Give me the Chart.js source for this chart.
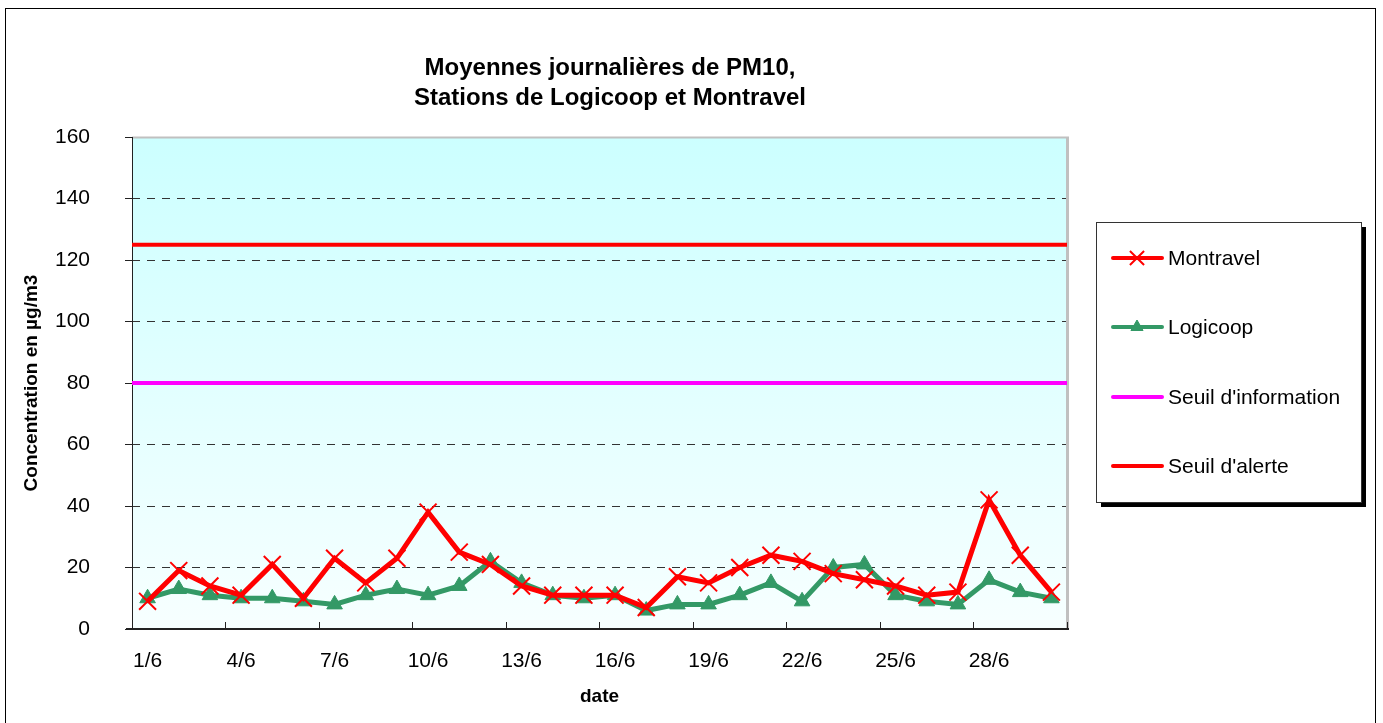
<!DOCTYPE html>
<html><head><meta charset="utf-8">
<script src="https://cdn.jsdelivr.net/npm/chart.js@4/dist/chart.umd.min.js"></script>
<style>html,body{margin:0;padding:0;background:#fff;}canvas{display:block;}</style>
</head><body>
<canvas id="c" width="1383" height="723"></canvas>
<script>
const titleLines = ['Moyennes journalières de PM10,', 'Stations de Logicoop et Montravel'];
const yTitle = 'Concentration en µg/m3';
const xTitle = 'date';
const dates = ['1/6','2/6','3/6','4/6','5/6','6/6','7/6','8/6','9/6','10/6','11/6','12/6','13/6','14/6','15/6',
  '16/6','17/6','18/6','19/6','20/6','21/6','22/6','23/6','24/6','25/6','26/6','27/6','28/6','29/6','30/6'];
const montravel = [9,19,14,11,21,10,23,15,23,38,25,21,14,11,11,11,7,17,15,20,24,22,18,16,14,11,12,42,24,12];
const logicoop = [10,13,11,10,10,9,8,11,13,11,14,22,15,11,10,11,6,8,8,11,15,9,20,21,11,9,8,16,12,10];
const seuilInformation = 80;
const seuilAlerte = 125;
const yMin = 0, yMax = 160, yStep = 20;
const labelEvery = 3;

const FONT = '"Liberation Sans", Arial, Helvetica, sans-serif';

const chromePlugin = {
  id: 'chrome',
  beforeDraw(chart) {
    const ctx = chart.ctx, a = chart.chartArea;
    ctx.save();
    ctx.strokeStyle = '#000'; ctx.lineWidth = 1;
    ctx.strokeRect(5.5, 8.5, 1370, 730);
    const g = ctx.createLinearGradient(0, a.top, 0, a.bottom);
    g.addColorStop(0, '#CCFFFF');
    g.addColorStop(1, '#F7FFFF');
    ctx.fillStyle = g;
    ctx.fillRect(a.left, a.top, a.right - a.left, a.bottom - a.top);
    ctx.restore();
  },
  beforeDatasetsDraw(chart) {
    const ctx = chart.ctx, a = chart.chartArea;
    ctx.save();
    ctx.strokeStyle = '#C0C0C0';
    ctx.lineWidth = 2;
    ctx.beginPath(); ctx.moveTo(a.left, a.top + 0.5); ctx.lineTo(a.right + 2, a.top + 0.5); ctx.stroke();
    ctx.lineWidth = 3;
    ctx.beginPath(); ctx.moveTo(a.right + 0.5, a.top); ctx.lineTo(a.right + 0.5, a.bottom); ctx.stroke();
    ctx.strokeStyle = '#222';
    ctx.lineWidth = 1;
    ctx.beginPath(); ctx.moveTo(a.left + 0.5, a.top); ctx.lineTo(a.left + 0.5, a.bottom + 1); ctx.stroke();
    ctx.lineWidth = 2;
    ctx.beginPath(); ctx.moveTo(a.left - 6, a.bottom); ctx.lineTo(a.right + 2, a.bottom); ctx.stroke();
    const xs = chart.scales.x;
    const step = xs.getPixelForValue(1) - xs.getPixelForValue(0);
    const x0 = xs.getPixelForValue(0) - step / 2;
    ctx.lineWidth = 1;
    for (let i = 0; i <= dates.length; i += labelEvery) {
      const px = Math.round(x0 + i * step) + 0.5;
      ctx.beginPath(); ctx.moveTo(px, a.bottom - 7); ctx.lineTo(px, a.bottom); ctx.stroke();
    }
    ctx.restore();
  },
  afterDraw(chart) {
    const ctx = chart.ctx;
    ctx.save();
    ctx.fillStyle = '#000';
    ctx.font = 'bold 24px ' + FONT;
    ctx.textAlign = 'center';
    ctx.textBaseline = 'middle';
    ctx.fillText(titleLines[0], 610, 68);
    ctx.fillText(titleLines[1], 610, 98);
    const L = {x: 1096, y: 222, w: 265, h: 280};
    ctx.fillStyle = '#000';
    ctx.fillRect(L.x + 5, L.y + 5, L.w, L.h);
    ctx.fillStyle = '#fff';
    ctx.fillRect(L.x, L.y, L.w, L.h);
    ctx.strokeStyle = '#333'; ctx.lineWidth = 1;
    ctx.strokeRect(L.x + 0.5, L.y + 0.5, L.w, L.h);
    const itemY = [258, 327, 397, 466];
    ctx.font = '21px ' + FONT;
    ctx.textAlign = 'left';
    chart.data.datasets.forEach((ds, i) => {
      const y = itemY[i];
      ctx.strokeStyle = ds.borderColor;
      ctx.lineWidth = 4;
      ctx.lineCap = 'round';
      ctx.beginPath(); ctx.moveTo(1113, y); ctx.lineTo(1162, y); ctx.stroke();
      if (ds.pointRadius > 0) {
        ctx.fillStyle = ds.pointBackgroundColor;
        ctx.strokeStyle = ds.pointBorderColor;
        ctx.lineWidth = ds.pointBorderWidth;
        ctx.lineCap = 'butt';
        Chart.helpers.drawPoint(ctx, {
          pointStyle: ds.pointStyle, radius: ds.legendRadius, rotation: 0,
          borderWidth: ds.pointBorderWidth
        }, 1137, y);
      }
      ctx.fillStyle = '#000';
      ctx.fillText(ds.label, 1168, y + 1);
    });
    ctx.restore();
  }
};

new Chart(document.getElementById('c'), {
  type: 'line',
  data: {
    labels: dates,
    datasets: [
      { label: 'Montravel', data: montravel, borderColor: '#FF0000', borderWidth: 5,
        pointStyle: 'crossRot', pointRadius: 12, pointBorderWidth: 2, legendRadius: 10,
        pointBorderColor: '#FF0000', pointBackgroundColor: '#FF0000', tension: 0 },
      { label: 'Logicoop', data: logicoop, borderColor: '#339966', borderWidth: 5,
        pointStyle: 'triangle', pointRadius: 9, pointBorderWidth: 1, legendRadius: 7,
        pointBorderColor: '#339966', pointBackgroundColor: '#339966', tension: 0 },
      { label: "Seuil d'information", xAxisID: 'x2',
        data: [{x: 0, y: seuilInformation}, {x: 1, y: seuilInformation}],
        borderColor: '#FF00FF', borderWidth: 4, pointRadius: 0 },
      { label: "Seuil d'alerte", xAxisID: 'x2',
        data: [{x: 0, y: seuilAlerte}, {x: 1, y: seuilAlerte}],
        borderColor: '#FF0000', borderWidth: 4, pointRadius: 0 }
    ]
  },
  options: {
    responsive: false,
    animation: false,
    devicePixelRatio: 1,
    layout: { padding: { left: 5, right: 316, top: 137, bottom: 0 } },
    plugins: { legend: { display: false }, title: { display: false }, tooltip: { enabled: false } },
    scales: {
      x: {
        type: 'category',
        offset: true,
        border: { display: false },
        grid: { display: true, drawOnChartArea: false, drawTicks: false, offset: true, color: 'rgba(0,0,0,0)' },
        ticks: {
          autoSkip: false, maxRotation: 0, minRotation: 0, padding: 20, color: '#000',
          font: { family: FONT, size: 21 },
          callback: function (v, i) { return i % labelEvery === 0 ? this.getLabelForValue(v) : null; }
        },
        title: { display: true, text: xTitle, color: '#000', font: { family: FONT, size: 19, weight: 'bold' },
                 padding: { top: 0, bottom: 15 } },
        afterFit(s) { s.height = 94; }
      },
      x2: { type: 'linear', min: 0, max: 1, display: false },
      y: {
        min: yMin, max: yMax,
        border: { display: false, dash: [8, 7] },
        grid: {
          drawTicks: true, tickLength: 7, tickColor: '#222', lineWidth: 1,
          color: (c) => (c.tick && (c.tick.value === yMin || c.tick.value === yMax)) ? 'rgba(0,0,0,0)' : '#333'
        },
        ticks: { stepSize: yStep, padding: 35, color: '#000', font: { family: FONT, size: 21 } },
        title: { display: true, text: yTitle, color: '#000', font: { family: FONT, size: 19, weight: 'bold' },
                 padding: { top: 15, bottom: 0 } },
        afterFit(s) { s.width = 127; }
      }
    }
  },
  plugins: [chromePlugin]
});
</script>
</body></html>
